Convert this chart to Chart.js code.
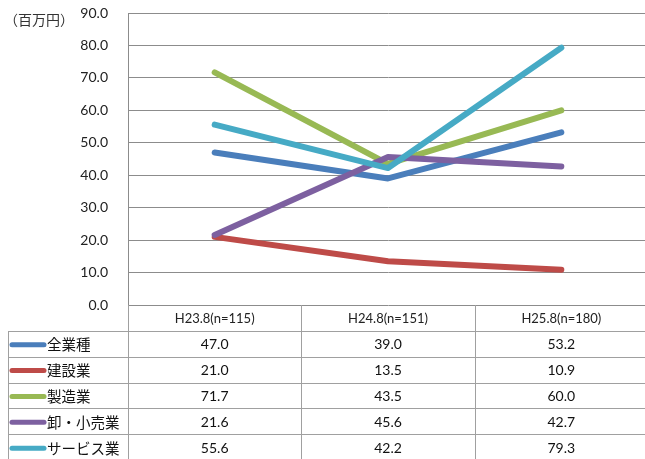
<!DOCTYPE html>
<html>
<head>
<meta charset="utf-8">
<script src="https://cdn.jsdelivr.net/npm/chart.js@4/dist/chart.umd.min.js"></script>
<style>
  html, body { margin: 0; padding: 0; background: #fff; }
  #wrap { width: 645px; height: 459px; overflow: hidden; position: relative; }
  canvas { display: block; }
</style>
</head>
<body>
<div id="wrap"><canvas id="c" width="648" height="459"></canvas></div>
<script>
// Survey periods (x categories)
const categories = ['H23.8(n=115)', 'H24.8(n=151)', 'H25.8(n=180)'];

// Series names and values (million yen)
const seriesNames = ['全業種', '建設業', '製造業', '卸・小売業', 'サービス業'];
const allIndustries   = [47.0, 39.0, 53.2];
const construction    = [21.0, 13.5, 10.9];
const manufacturing   = [71.7, 43.5, 60.0];
const wholesaleRetail = [21.6, 45.6, 42.7];
const services        = [55.6, 42.2, 79.3];

// Value axis range
const yMin = 0;
const yMax = 90;
const yStep = 10;
const unitLabel = '（百万円）';

const seriesValues = [allIndustries, construction, manufacturing, wholesaleRetail, services];
const seriesColors = ['#4A7EBB', '#BE4B48', '#98B954', '#7D60A0', '#46AAC5'];

const NUM_FONT = 'Lato, "Liberation Sans", sans-serif';
const JP_FONT = '"Noto Sans CJK JP", sans-serif';
const GRID = '#8c8c8c';
const TABLE_LINE = '#a0a0a0';

// Data table drawn under the plot, aligned with the category scale
const dataTable = {
  id: 'dataTable',
  afterDraw(chart) {
    const ctx = chart.ctx;
    const x = chart.scales.x;
    const area = chart.chartArea;
    const colW = (area.right - area.left) / categories.length;
    const top = area.bottom;
    const headerBottom = top + 25.7;
    const rowH = 25.9;
    const tableLeft = 8;
    const bottom = chart.height;
    ctx.save();

    // unit label
    ctx.fillStyle = '#333';
    ctx.font = '14px ' + JP_FONT;
    ctx.textAlign = 'left';
    ctx.textBaseline = 'middle';
    ctx.fillText(unitLabel, 4, 20);

    // grid lines of the table
    ctx.strokeStyle = TABLE_LINE;
    ctx.lineWidth = 1;
    ctx.beginPath();
    for (let r = 0; r <= seriesNames.length; r++) {
      const y = Math.round(headerBottom + r * rowH) + 0.5;
      ctx.moveTo(tableLeft, y);
      ctx.lineTo(chart.width, y);
    }
    ctx.moveTo(tableLeft + 0.5, Math.round(headerBottom));
    ctx.lineTo(tableLeft + 0.5, bottom);
    for (let c = 0; c <= categories.length; c++) {
      const xx = Math.round(area.left + c * colW) + 0.5;
      ctx.moveTo(xx, top);
      ctx.lineTo(xx, bottom);
    }
    ctx.stroke();

    // header
    ctx.fillStyle = '#222';
    ctx.textAlign = 'center';
    ctx.font = '13px ' + NUM_FONT;
    categories.forEach((cat, i) => {
      ctx.fillText(cat, x.getPixelForValue(i), (top + headerBottom) / 2 + 1);
    });

    // rows
    seriesNames.forEach((name, r) => {
      const cy = headerBottom + r * rowH + rowH / 2 + 1;
      ctx.strokeStyle = seriesColors[r];
      ctx.lineWidth = 5;
      ctx.lineCap = 'round';
      ctx.beginPath();
      ctx.moveTo(12, cy);
      ctx.lineTo(44, cy);
      ctx.stroke();
      ctx.fillStyle = '#111';
      ctx.textAlign = 'left';
      ctx.font = '14.5px ' + JP_FONT;
      ctx.fillText(name, 47, cy);
      ctx.textAlign = 'center';
      ctx.font = '14px ' + NUM_FONT;
      seriesValues[r].forEach((v, i) => {
        ctx.fillText(v.toFixed(1), x.getPixelForValue(i), cy);
      });
    });
    ctx.restore();
  }
};

new Chart(document.getElementById('c'), {
  type: 'line',
  data: {
    labels: categories,
    datasets: seriesNames.map((name, i) => ({
      label: name,
      data: seriesValues[i],
      borderColor: seriesColors[i],
      backgroundColor: seriesColors[i],
      borderWidth: 6,
      borderCapStyle: 'round',
      borderJoinStyle: 'round',
      pointRadius: 0,
      tension: 0,
      fill: false,
      order: seriesNames.length - i
    }))
  },
  options: {
    responsive: false,
    animation: false,
    devicePixelRatio: 1,
    layout: { padding: { top: 13, left: 0, right: 0, bottom: 154 } },
    plugins: {
      legend: { display: false },
      tooltip: { enabled: false },
      title: { display: false }
    },
    scales: {
      x: {
        display: false,
        offset: true
      },
      y: {
        min: yMin,
        max: yMax,
        afterFit(scale) { scale.width = 128; },
        ticks: {
          stepSize: yStep,
          padding: 0,
          color: '#222',
          font: { family: NUM_FONT, size: 14 },
          callback: v => Number(v).toFixed(1)
        },
        grid: {
          color: GRID,
          lineWidth: 1,
          drawTicks: true,
          tickLength: 20,
          tickColor: 'rgba(0,0,0,0)'
        },
        border: { display: true, color: GRID, width: 1 }
      }
    }
  },
  plugins: [dataTable]
});
</script>
</body>
</html>
